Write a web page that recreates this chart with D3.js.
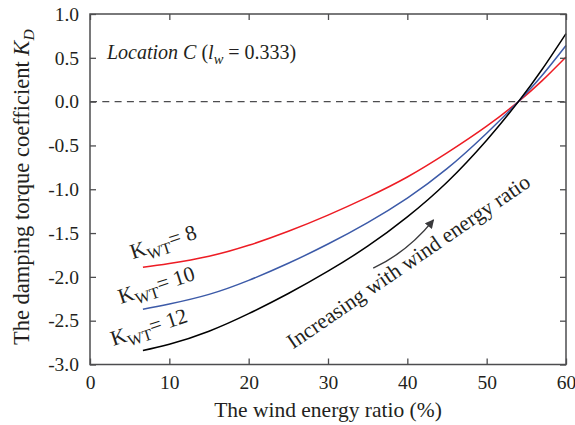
<!DOCTYPE html>
<html>
<head>
<meta charset="utf-8">
<script src="https://cdn.jsdelivr.net/npm/d3@7"></script>
<style>
  body { margin: 0; background: #fff; }
  svg { display: block; }
  text { font-family: "Liberation Serif", "Times New Roman", Tinos, "DejaVu Serif", serif; fill: #231f20; }
</style>
</head>
<body>
<svg id="chart" width="575" height="425"></svg>
<script>
// wind energy ratio (%) sampled along the curves
var windRatio = [6.67, 10, 15, 20, 25, 30, 35, 40, 45, 50, 54, 57, 60];
// damping torque coefficient K_D for each K_WT
var kd8  = [-1.89, -1.848, -1.765, -1.64, -1.48, -1.295, -1.09, -0.86, -0.585, -0.28, 0, 0.24, 0.51];
var kd10 = [-2.37, -2.31, -2.20, -2.04, -1.845, -1.625, -1.38, -1.10, -0.765, -0.36, 0, 0.30, 0.64];
var kd12 = [-2.84, -2.77, -2.62, -2.42, -2.19, -1.935, -1.65, -1.315, -0.92, -0.44, 0, 0.37, 0.777];
var seriesNames = ["8", "10", "12"];
var seriesColors = ["#ed1c24", "#3c5aa8", "#000000"];
var xTicks = [0, 10, 20, 30, 40, 50, 60];
var yTicks = [1.0, 0.5, 0.0, -0.5, -1.0, -1.5, -2.0, -2.5, -3.0];

var width = 575, height = 425;
var margin = { left: 90, right: 9, top: 14, bottom: 60.5 };
var axisColor = "#4d4d4f";
var serif = "'Liberation Serif', 'Times New Roman', Tinos, 'DejaVu Serif', serif";

var svg = d3.select("#chart");
var g = svg.append("g");

var xScale = d3.scaleLinear()
	.domain([0, 60])
	.range([margin.left, width - margin.right]);

var yScale = d3.scaleLinear()
	.domain([-3, 1])
	.range([height - margin.bottom, margin.top]);

var series = [kd8, kd10, kd12].map(function(vals, i) {
	return {
		name: seriesNames[i],
		color: seriesColors[i],
		points: windRatio.map(function(x, j) { return [x, vals[j]]; })
	};
});

// zero reference line
g.append("line")
	.attr("x1", xScale(0))
	.attr("x2", xScale(60))
	.attr("y1", yScale(0))
	.attr("y2", yScale(0))
	.attr("stroke", axisColor)
	.attr("stroke-width", 1.3)
	.attr("stroke-dasharray", "7,5.3");

var line = d3.line()
	.x(function(d) { return xScale(d[0]); })
	.y(function(d) { return yScale(d[1]); })
	.curve(d3.curveNatural);

g.selectAll(".curve")
	.data(series)
	.enter().append("path")
		.attr("class", "curve")
		.attr("fill", "none")
		.attr("stroke", function(d) { return d.color; })
		.attr("stroke-width", 1.5)
		.attr("d", function(d) { return line(d.points); });

// axes, ticks pointing inward on all four sides
function styleAxis(sel) {
	sel.attr("font-family", serif);
	sel.select(".domain").remove();
	sel.selectAll(".tick line").attr("stroke", axisColor).attr("stroke-width", 1.3);
	sel.selectAll(".tick text")
		.style("font-size", "19.5px")
		.attr("fill", "#231f20");
}

g.append("g")
	.attr("transform", "translate(0," + yScale(-3) + ")")
	.call(d3.axisBottom(xScale).tickValues(xTicks).tickSizeInner(-6).tickSizeOuter(0).tickPadding(11))
	.call(styleAxis);

g.append("g")
	.attr("transform", "translate(0," + yScale(1) + ")")
	.call(d3.axisTop(xScale).tickValues(xTicks).tickSizeInner(-6).tickSizeOuter(0).tickFormat(""))
	.call(styleAxis);

g.append("g")
	.attr("transform", "translate(" + xScale(0) + ",0)")
	.call(d3.axisLeft(yScale).tickValues(yTicks).tickSizeInner(-6).tickSizeOuter(0).tickPadding(11)
		.tickFormat(function(d) { return d3.format(".1f")(d).replace("−", "-"); }))
	.call(styleAxis);

g.append("g")
	.attr("transform", "translate(" + xScale(60) + ",0)")
	.call(d3.axisRight(yScale).tickValues(yTicks).tickSizeInner(-6).tickSizeOuter(0).tickFormat(""))
	.call(styleAxis);

g.append("rect")
	.attr("x", xScale(0))
	.attr("y", yScale(1))
	.attr("width", xScale(60) - xScale(0))
	.attr("height", yScale(-3) - yScale(1))
	.attr("fill", "none")
	.attr("stroke", axisColor)
	.attr("stroke-width", 1.5);

// axis titles
g.append("text")
	.attr("x", (xScale(0) + xScale(60)) / 2)
	.attr("y", 416.5)
	.attr("text-anchor", "middle")
	.style("font-size", "21.5px")
	.text("The wind energy ratio (%)");

var yTitle = g.append("text")
	.attr("transform", "translate(29," + ((yScale(1) + yScale(-3)) / 2 - 2) + ") rotate(-90)")
	.attr("text-anchor", "middle")
	.style("font-size", "22.5px");
yTitle.append("tspan").text("The damping torque coefficient ");
yTitle.append("tspan").style("font-style", "italic").text("K");
yTitle.append("tspan").style("font-style", "italic").style("font-size", "15.5px").attr("dy", 5).text("D");

// location note
var note = g.append("text")
	.attr("x", xScale(2.14))
	.attr("y", yScale(0.49))
	.style("font-size", "20px");
note.append("tspan").style("font-style", "italic").text("Location C");
note.append("tspan").text(" (");
note.append("tspan").style("font-style", "italic").text("l");
note.append("tspan").style("font-style", "italic").style("font-size", "14.5px").attr("dy", 5).text("w");
note.append("tspan").attr("dy", -5).text(" = 0.333)");

// curve labels
var labelPos = [[5.38, -1.80], [3.87, -2.31], [2.94, -2.79]];
series.forEach(function(s, i) {
	var t = g.append("text")
		.attr("transform", "translate(" + xScale(labelPos[i][0]) + "," + yScale(labelPos[i][1]) + ") rotate(-18)")
		.style("font-size", "21.5px");
	t.append("tspan").text("K");
	t.append("tspan").style("font-size", "16px").attr("dy", 5.5).text("WT");
	t.append("tspan").attr("dy", -5.5).text("= " + s.name);
});

// trend annotation
g.append("text")
	.attr("transform", "translate(" + xScale(25.6) + "," + yScale(-2.83) + ") rotate(-34.5)")
	.style("font-size", "21.5px")
	.text("Increasing with wind energy ratio");

svg.append("defs").append("marker")
	.attr("id", "head")
	.attr("viewBox", "0 0 10 10")
	.attr("refX", 9)
	.attr("refY", 5)
	.attr("markerWidth", 10)
	.attr("markerHeight", 9)
	.attr("markerUnits", "userSpaceOnUse")
	.attr("orient", "auto")
	.append("path")
		.attr("d", "M0,0 L10,5 L0,10 Z")
		.attr("fill", "#3a3a3c");

var arrowPath = d3.path();
arrowPath.moveTo(xScale(35.7), yScale(-1.9));
arrowPath.quadraticCurveTo(xScale(40), yScale(-1.72), xScale(43.3), yScale(-1.35));
g.append("path")
	.attr("d", arrowPath.toString())
	.attr("fill", "none")
	.attr("stroke", "#3a3a3c")
	.attr("stroke-width", 1.4)
	.attr("marker-end", "url(#head)");
</script>
</body>
</html>
